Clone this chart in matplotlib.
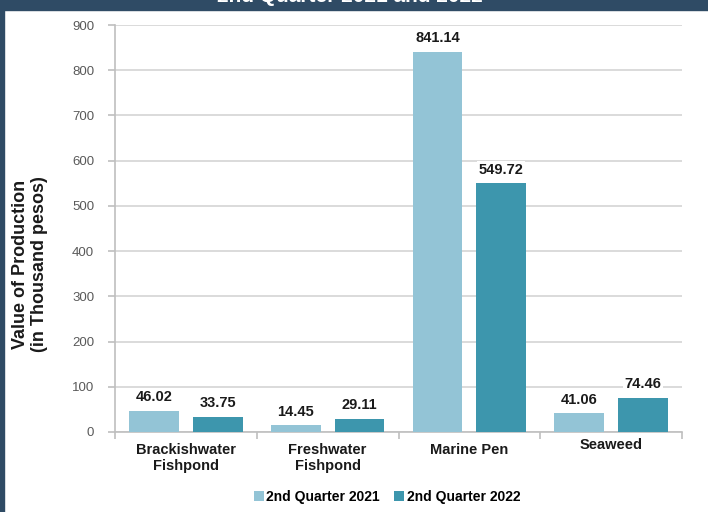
import numpy as np
import matplotlib.pyplot as plt
from matplotlib.transforms import ScaledTranslation

# data
categories = ["Brackishwater\nFishpond", "Freshwater\nFishpond", "Marine Pen", "Seaweed"]
q2_2021 = [46.02, 14.45, 841.14, 41.06]
q2_2022 = [33.75, 29.11, 549.72, 74.46]
series_names = ["2nd Quarter 2021", "2nd Quarter 2022"]
yticks = [0, 100, 200, 300, 400, 500, 600, 700, 800, 900]

c_light = "#93c4d6"
c_dark = "#3d96ad"
navy = "#2f4b65"
grid_c = "#d4d4d4"

plt.rcParams['font.family'] = ['Liberation Sans', 'DejaVu Sans']

fig = plt.figure(figsize=(7.08, 5.12), dpi=100)
fig.patch.set_facecolor("white")

# navy frame (top band and left edge)
fig.patches.append(plt.Rectangle((0, 1 - 10/512), 1, 10/512, transform=fig.transFigure,
                                 color=navy, zorder=0))
fig.patches.append(plt.Rectangle((0, 0), 4/708, 1, transform=fig.transFigure,
                                 color=navy, zorder=0))
# title, mostly cut off by the top edge as in the source image
fig.text(350/708, 1 - 2/512, "2nd Quarter 2021 and 2022", color="white",
         fontsize=15, fontweight="bold", ha="center", va="baseline")

ax = fig.add_axes([115/708, 80/512, 567/708, 407/512])

x = np.arange(len(categories))
w = 0.352
off = 0.225
b1 = ax.bar(x - off, q2_2021, w, color=c_light, label=series_names[0], zorder=3)
b2 = ax.bar(x + off, q2_2022, w, color=c_dark, label=series_names[1], zorder=3)

for bars, vals in [(b1, q2_2021), (b2, q2_2022)]:
    for rect, v in zip(bars, vals):
        ax.annotate(f"{v:.2f}", (rect.get_x() + rect.get_width()/2, v),
                    xytext=(0, 10), textcoords="offset points",
                    ha="center", va="center", fontsize=10.5, fontweight="bold",
                    color="#1a1a1a", zorder=4,
                    bbox=dict(facecolor="white", edgecolor="none", pad=1))

ax.set_xlim(-0.5, 3.5)
ax.set_ylim(0, 900)
ax.set_yticks(yticks)
ax.yaxis.grid(True, color=grid_c, linewidth=1.2, zorder=0)
ax.set_axisbelow(True)

for s in ["top", "right"]:
    ax.spines[s].set_visible(False)
for s in ["left", "bottom"]:
    ax.spines[s].set_color("#bfbfbf")
    ax.spines[s].set_linewidth(1.2)

ax.tick_params(axis="y", length=5, width=1.2, color="#bfbfbf", labelsize=9.5,
               labelcolor="#595959", pad=10)
ax.set_xticks(x)
ax.set_xticklabels(categories, fontsize=10.5, fontweight="bold", color="#1a1a1a")
ax.set_xticks(np.arange(-0.5, 4, 1), minor=True)
ax.tick_params(axis="x", which="major", length=0, pad=8)
ax.tick_params(axis="x", which="minor", length=5, width=1.2, color="#bfbfbf")

# seaweed label sits a bit higher
lab = ax.get_xticklabels()[3]
lab.set_transform(lab.get_transform() + ScaledTranslation(0, 5/100, fig.dpi_scale_trans))

fig.text(30/708, 1 - 264/512, "Value of Production\n(in Thousand pesos)",
         rotation=90, ha="center", va="center", fontsize=13,
         fontweight="bold", color="#1a1a1a", linespacing=1.1)

fig.legend(loc="center", bbox_to_anchor=(387/708, 1 - 497/512), ncol=2,
           frameon=False, handlelength=0.7, handleheight=0.7, handletextpad=0.2,
           columnspacing=1.0, prop=dict(size=10, weight="bold"))

fig.savefig("out.png", dpi=100)
